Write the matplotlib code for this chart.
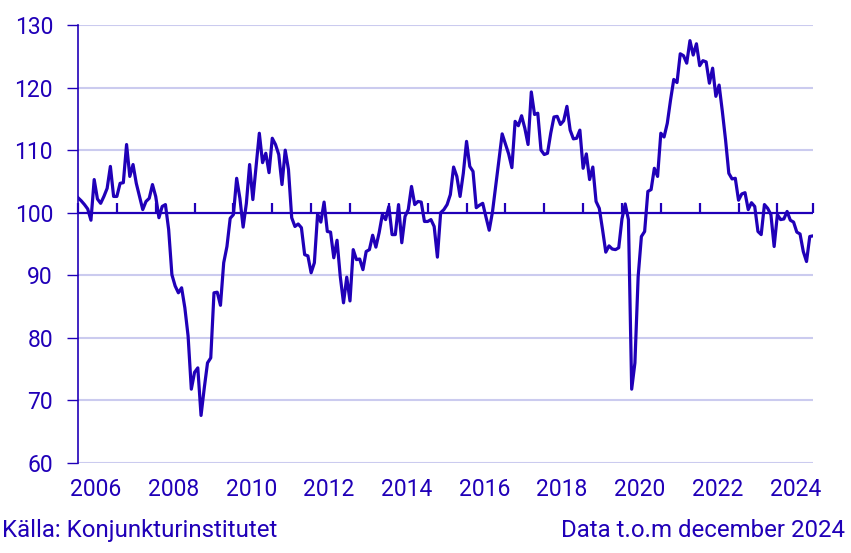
import matplotlib as mpl
mpl.use('Agg')
import matplotlib.pyplot as plt
import numpy as np

plt.rcParams['font.family'] = ['Roboto', 'DejaVu Sans']

BLUE = '#2000B8'
GRID = '#CBCBEF'

# monthly values, January 2006 - December 2024 (one row per year)
values = [
    102.4, 101.9, 101.3, 100.6, 98.8, 105.3, 102.2, 101.5, 102.6, 103.9, 107.4, 102.6,
    102.6, 104.7, 104.8, 110.9, 105.8, 107.7, 104.7, 102.6, 100.5, 101.8, 102.3, 104.5,
    102.6, 99.2, 101.0, 101.3, 97.3, 90.1, 88.3, 87.2, 88.0, 84.8, 80.3, 71.8,
    74.5, 75.2, 67.6, 72.0, 76.0, 76.8, 87.2, 87.3, 85.2, 92.0, 94.6, 99.1,
    99.7, 105.5, 102.3, 97.7, 101.5, 107.7, 102.1, 107.4, 112.7, 108.0, 109.5, 106.4,
    111.9, 110.9, 109.3, 104.5, 110.0, 106.9, 99.2, 97.8, 98.2, 97.6, 93.3, 93.1,
    90.4, 92.0, 99.8, 98.5, 101.7, 97.0, 96.9, 92.8, 95.6, 89.8, 85.6, 89.7,
    85.9, 94.1, 92.5, 92.6, 90.9, 93.8, 94.1, 96.4, 94.5, 96.8, 99.7, 98.9,
    101.0, 96.5, 96.5, 101.3, 95.2, 99.4, 100.5, 104.2, 101.3, 101.8, 101.7, 98.6,
    98.6, 98.9, 97.8, 92.9, 100.0, 100.5, 101.3, 102.9, 107.3, 105.8, 102.6, 106.3,
    111.4, 107.4, 106.6, 100.8, 101.2, 101.5, 99.3, 97.2, 100.1, 104.2, 108.4, 112.6,
    111.0, 109.4, 107.2, 114.6, 113.9, 115.5, 113.5, 110.9, 119.3, 115.7, 115.9, 110.0,
    109.3, 109.5, 112.7, 115.3, 115.4, 114.1, 114.7, 117.0, 113.2, 111.8, 111.9, 113.2,
    107.1, 109.4, 105.3, 107.3, 101.8, 100.7, 97.3, 93.7, 94.7, 94.2, 94.1, 94.4,
    99.0, 101.4, 98.9, 71.8, 76.0, 89.8, 96.2, 97.0, 103.4, 103.7, 107.1, 105.8,
    112.7, 112.1, 114.3, 118.0, 121.3, 120.8, 125.4, 125.1, 123.9, 127.5, 125.2, 127.0,
    123.5, 124.3, 124.1, 120.7, 123.1, 118.6, 120.4, 116.2, 111.6, 106.3, 105.4, 105.5,
    102.0, 103.0, 103.2, 100.5, 101.6, 101.0, 97.0, 96.5, 101.3, 100.7, 99.7, 94.6,
    99.7, 98.9, 99.0, 100.2, 98.8, 98.5, 96.9, 96.6, 93.8, 92.2, 96.2, 96.3,
]
first_year = 2006
label_years = list(range(2006, 2025, 2))
y_ticks = [60, 70, 80, 90, 100, 110, 120, 130]
source = 'Källa: Konjunkturinstitutet'
note = 'Data t.o.m december 2024'

n = len(values)
months = np.arange(n)

fig = plt.figure(figsize=(8.51, 5.53), dpi=100)
ax = fig.add_axes([78 / 851, 1 - 463 / 553, 735 / 851, 438 / 553])

ax.set_ylim(60, 130)
ax.set_xlim(0, n - 1)
ax.set_yticks(y_ticks)
for y in y_ticks:
    if y != 100:
        ax.axhline(y, color=GRID, lw=1.5, zorder=0)
ax.axhline(100, color=BLUE, lw=1.6, zorder=4)

ax.plot(months, values, color=BLUE, lw=2.3, zorder=3)

# year labels centred on each labelled year
ax.set_xticks([(yr - first_year) * 12 + 5.5 for yr in label_years])
ax.set_xticklabels([str(yr) for yr in label_years])
ax.tick_params(axis='x', length=0, pad=11, labelsize=16.5, labelcolor=BLUE)
ax.tick_params(axis='y', length=8, width=1, color=BLUE, pad=10,
               labelsize=16.5, labelcolor=BLUE)

for s in ['top', 'right', 'bottom']:
    ax.spines[s].set_visible(False)
ax.spines['left'].set_color(BLUE)
ax.spines['left'].set_linewidth(1.2)

# year ticks hanging from the 100 line
sec = ax.secondary_xaxis((100 - 60) / 70)
sec.set_xticks(list(range(0, n, 12)) + [n - 1])
sec.set_xticklabels([])
sec.tick_params(length=7, width=1.6, color=BLUE, direction='out')
for s in sec.spines.values():
    s.set_visible(False)

fig.text(2 / 851, 1 - 537 / 553, source, color=BLUE, fontsize=17.3,
         ha='left', va='baseline')
fig.text(845 / 851, 1 - 537 / 553, note, color=BLUE, fontsize=17.3,
         ha='right', va='baseline')

fig.savefig('out.png', dpi=100)
